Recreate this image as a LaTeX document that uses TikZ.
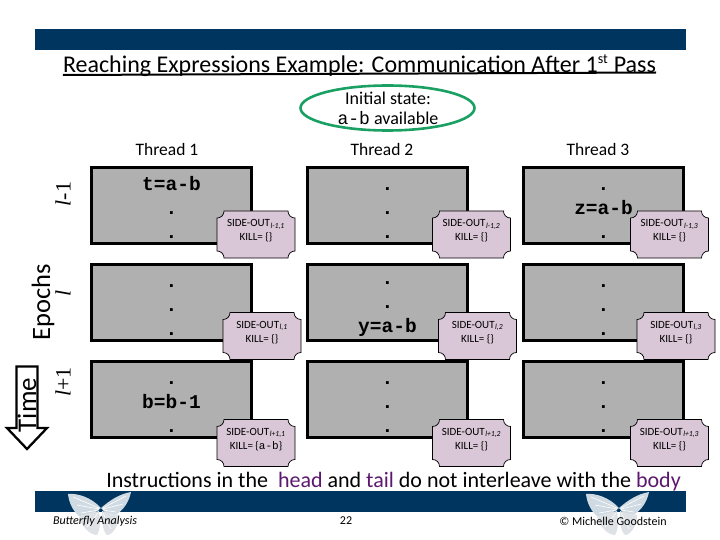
\documentclass[tikz,border=0pt]{standalone}
\usepackage{fontspec}
\setmainfont{Carlito}
\setmonofont{Liberation Mono}
\newfontfamily\epochfont{Liberation Serif}
\usetikzlibrary{positioning}
\definecolor{barblue}{RGB}{0,53,96}
\definecolor{boxgray}{RGB}{176,176,176}
\definecolor{plaquepink}{RGB}{217,198,214}
\definecolor{ringgreen}{RGB}{27,160,100}
\definecolor{tagpurple}{RGB}{92,24,110}
\definecolor{wingblue}{RGB}{208,218,226}
\definecolor{winglow}{RGB}{222,226,230}
% keep the three code lines at the same height in every block
\newcommand{\firstline}{\rule{0pt}{23pt}}
\newcommand{\lastline}{\rule[-5pt]{0pt}{5pt}}
\tikzset{
	bar/.style={fill=barblue},
	epochbox/.style={draw=black,line width=2.3pt,fill=boxgray,minimum width=160,minimum height=76,inner sep=0pt,align=center,font=\ttfamily\bfseries\fontsize{19.5}{24}\selectfont},
	plaque/.style={draw=black,line width=.7pt,fill=plaquepink},
	sidetext/.style={inner sep=0pt,align=center,font=\fontsize{11}{14}\selectfont},
	threadlabel/.style={font=\fontsize{17.5}{18}\selectfont},
	epochlabel/.style={rotate=90,inner sep=0pt,font=\epochfont\fontsize{22}{22}\selectfont},
	footer/.style={font=\fontsize{12}{14}\selectfont},
	pics/butterfly/.style={code={
		\fill[wingblue] (2,-3) .. controls (-8,-14) and (-22,-18) .. (-31,-17) .. controls (-30,-8) and (-26,0) .. (-20,5) .. controls (-12,6) and (-4,2) .. (2,-3);
		\fill[wingblue] (2,-3) .. controls (10,-10) and (20,-17) .. (32,-19) .. controls (30,-9) and (24,0) .. (16,4) .. controls (10,5) and (6,2) .. (2,-3);
		\fill[winglow] (0,0) .. controls (-8,2) and (-18,4) .. (-20,6) .. controls (-18,14) and (-10,24) .. (-2,24) .. controls (2,18) and (1,8) .. (0,0);
		\fill[winglow] (3,0) .. controls (8,2) and (16,3) .. (20,4) .. controls (20,14) and (14,24) .. (8,24) .. controls (3,20) and (3,8) .. (3,0);
		\draw[white,line width=.6pt] (0,-3) -- (-26,-14) (0,-2) -- (-22,-6) (0,-1) -- (-18,2) (4,-3) -- (27,-15) (4,-2) -- (24,-7) (4,-1) -- (17,1) (-1,2) -- (-12,16) (4,2) -- (12,18);
	}}
}
% plaque at (cx,cy) holding the two text lines
\newcommand{\sideout}[5]{
	\begin{scope}[shift={(#2,#3)}]
		\draw[plaque] (-32,-23.5) -- (32,-23.5) .. controls (32,-19.5) and (35,-16.5) .. (39,-16.5) -- (39,16.5) .. controls (35,16.5) and (32,19.5) .. (32,23.5) -- (-32,23.5) .. controls (-32,19.5) and (-35,16.5) .. (-39,16.5) -- (-39,-16.5) .. controls (-35,-16.5) and (-32,-19.5) .. (-32,-23.5) -- cycle;
	\end{scope}
	\node[sidetext] (#1) at (#2,#3-3.5) {SIDE-OUT\textsubscript{\kern.5pt\itshape #4}\\KILL= #5};
}
\begin{document}
\begin{tikzpicture}[x=1pt,y=-1pt]
	\useasboundingbox (0,0) rectangle (720,540);

	% Bars at top and bottom
	\fill[bar] (35,29) rectangle (686,50);
	\fill[bar] (35,491) rectangle (686,512);

	% Butterflies over the bottom bar
	\pic (BFL) at (99,511) {butterfly};
	\pic (BFR) at (617,511) {butterfly};

	% Title with its underline
	\node[anchor=base,inner sep=0pt,font=\fontsize{24}{26}\selectfont] (TITLE) at (359.5,72.5) {Reaching Expressions Example: Communication After 1\textsuperscript{\fontsize{14}{14}\selectfont st} Pass};
	\draw[line width=2pt] (TITLE.base west) ++(0,2.5) -- (TITLE.base east) ++(0,2.5);

	% Initial state
	\draw[ringgreen,line width=2.6pt] (387.5,108) ellipse (87 and 22.5);
	\node[align=center,inner sep=0pt,font=\fontsize{18}{20}\selectfont] (INIT) at (388,108) {Initial state:\\{\ttfamily a-b} available};

	% Thread labels
	\node[threadlabel] (TH1) at (167,149) {Thread 1};
	\node[threadlabel] (TH2) at (382,149) {Thread 2};
	\node[threadlabel] (TH3) at (598,149) {Thread 3};

	% Blocks, one row per epoch
	\node[epochbox] (B11) at (171.5,205.5) {\firstline t=a-b\\.\\.\lastline};
	\node[epochbox] (B12) at (387.5,205.5) {\firstline .\\.\\.\lastline};
	\node[epochbox] (B13) at (603.5,205.5) {\firstline .\\z=a-b\\.\lastline};
	\node[epochbox] (B21) at (171.5,302.5) {\firstline .\\.\\.\lastline};
	\node[epochbox] (B22) at (387.5,302.5) {\rule{0pt}{16pt}.\\.\\y=a-b\lastline};
	\node[epochbox] (B23) at (603.5,302.5) {\firstline .\\.\\.\lastline};
	\node[epochbox] (B31) at (171.5,399.5) {\firstline .\\b=b-1\\.\lastline};
	\node[epochbox] (B32) at (387.5,399.5) {\firstline .\\.\\.\lastline};
	\node[epochbox] (B33) at (603.5,399.5) {\firstline .\\.\\.\lastline};

	% Plaques
	\sideout{S11}{256}{234.5}{l-1,1}{\{\}}
	\sideout{S12}{471.5}{234.5}{l-1,2}{\{\}}
	\sideout{S13}{669.5}{234.5}{l-1,3}{\{\}}
	\sideout{S21}{262}{336}{l,1}{\{\}}
	\sideout{S22}{477.5}{336}{l,2}{\{\}}
	\sideout{S23}{676}{336}{l,3}{\{\}}
	\sideout{S31}{256}{443}{l+1,1}{\{{\ttfamily a-b}\}}
	\sideout{S32}{471.5}{443}{l+1,2}{\{\}}
	\sideout{S33}{669.5}{443}{l+1,3}{\{\}}

	% Epoch labels
	\node[epochlabel] (EL1) at (63,194) {{\itshape l}-1};
	\node[epochlabel] (EL2) at (63,293) {{\itshape l}};
	\node[epochlabel] (EL3) at (63,382) {{\itshape l}+1};
	\node[rotate=90,inner sep=0pt,font=\fontsize{26.5}{27}\selectfont] (EPOCHS) at (43,302.5) {Epochs};

	% Time arrow
	\draw[draw=black,line width=2.3pt,fill=white] (16.5,366.5) -- (37.5,366.5) -- (37.5,428) -- (47,428) -- (27,449) -- (7,428) -- (16.5,428) -- cycle;
	\node[rotate=90,inner sep=0pt,font=\fontsize{27}{28}\selectfont] (TIME) at (27,405) {Time};

	% Bottom sentence
	\node[anchor=base,inner sep=0pt,font=\fontsize{22}{24}\selectfont] (NOTE) at (393.5,487.5) {Instructions in the \ {\color{tagpurple}head} and {\color{tagpurple}tail} do not interleave with the {\color{tagpurple}body}};

	% Footer
	\node[footer,font=\itshape\fontsize{12}{14}\selectfont] (FTL) at (95,521) {Butterfly Analysis};
	\node[footer] (FTM) at (346,521) {22};
	\node[footer] (FTR) at (613,521) {© Michelle Goodstein};
\end{tikzpicture}
\end{document}
